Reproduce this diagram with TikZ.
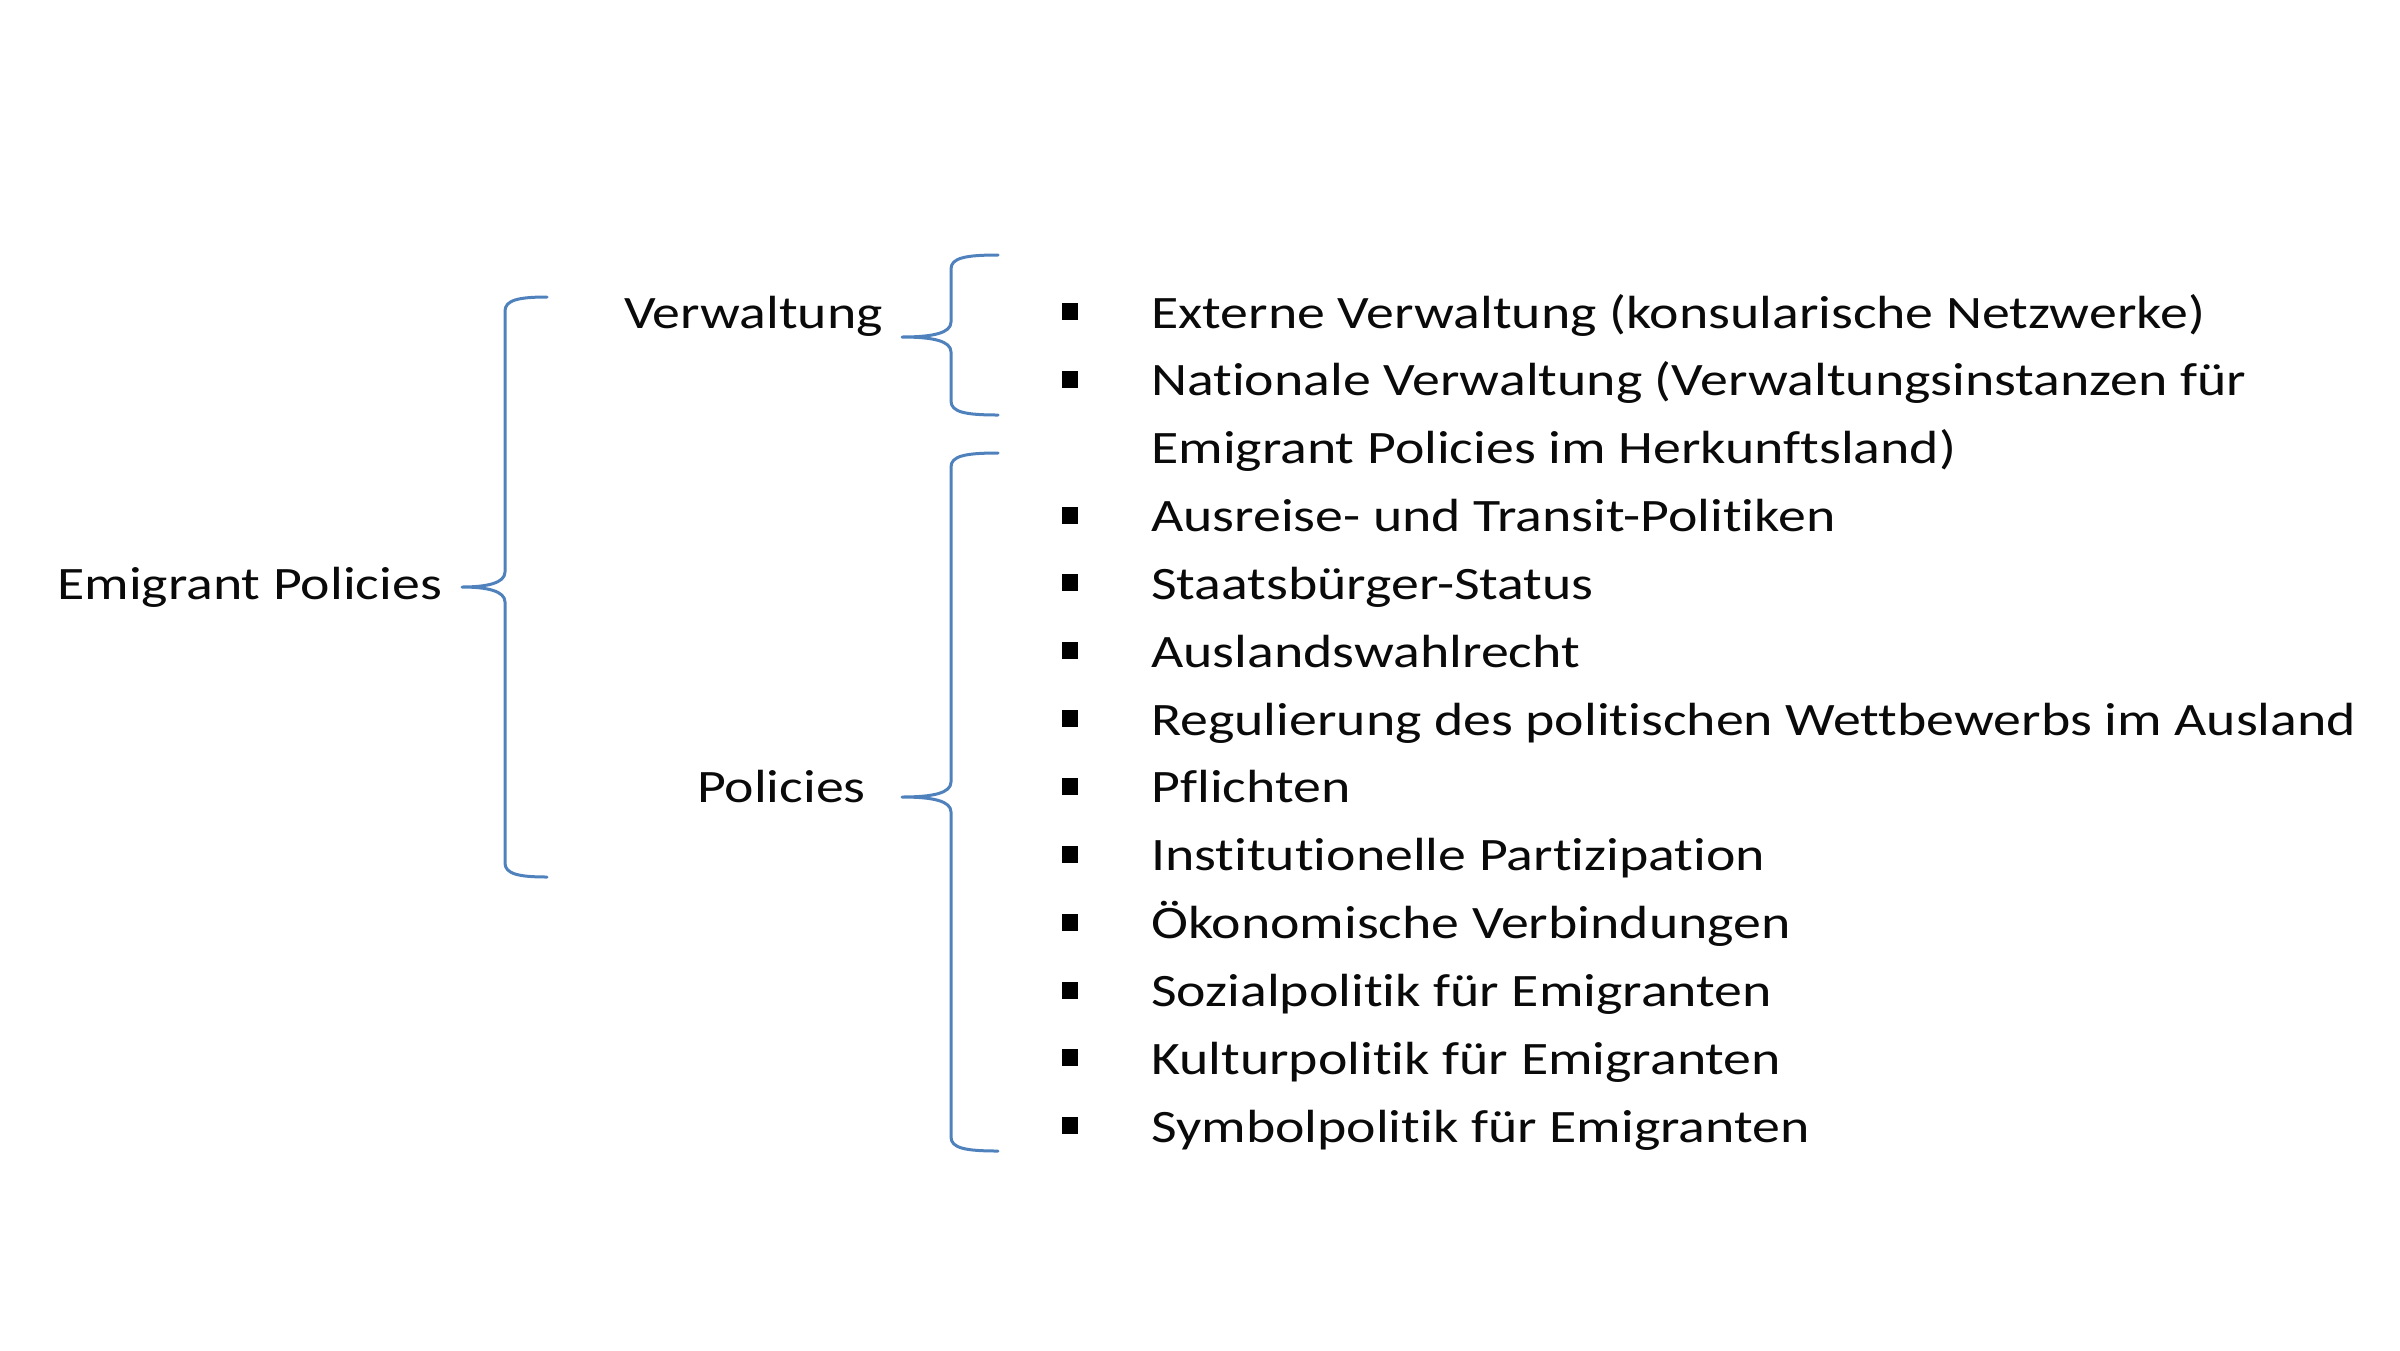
\documentclass[tikz,border=0pt]{standalone}
\usepackage{fontspec}
\setmainfont[FakeStretch=1.2, Ligatures={NoCommon}]{Carlito}
\definecolor{bracecol}{RGB}{79,129,189}
\definecolor{txtcol}{RGB}{10,10,10}
\tikzset{
  lbl/.style={inner sep=0pt, font=\fontsize{46.5}{56}\selectfont, text=txtcol},
  item/.style={lbl, anchor=base west},
  bul/.style={fill=black, inner sep=0pt, minimum width=16pt, minimum height=17pt, draw=none},
  bracestyle/.style={draw=bracecol, line width=3pt, line cap=round, line join=round}
}
\newcommand{\mybrace}[6]{% #1 end x, #2 stem x, #3 tip x, #4 top y, #5 mid y, #6 bottom y
  \draw[bracestyle] (#1,#4) .. controls (#2+14,#4) and (#2,#4+3) .. (#2,#4+14)
     -- (#2,#5-15) .. controls (#2,#5-4) and (#2-18,#5) .. (#3,#5)
     .. controls (#2-18,#5) and (#2,#5+4) .. (#2,#5+15)
     -- (#2,#6-14) .. controls (#2,#6-3) and (#2+14,#6) .. (#1,#6);}
\begin{document}
\begin{tikzpicture}[x=1pt,y=-1pt]
\useasboundingbox (0,0) rectangle (2400,1350);
% braces
\mybrace{547}{505}{462}{297}{587}{877}
\mybrace{998}{951}{902}{255}{337}{415}
\mybrace{998}{951}{902}{453}{797}{1151}
% labels
\def\by{328}
\def\lh{67.85}
\node[lbl, anchor=base west] (emig) at (57,\by+4*\lh) {Emigrant Policies};
\node[lbl, anchor=base east] (verw) at (883,\by) {Verwaltung};
\node[lbl, anchor=base east] (pol) at (866,\by+7*\lh) {Policies};
% items
\node[item] (i1) at (1151,\by) {Externe Verwaltung (konsularische Netzwerke)};
\node[item] (i2) at (1151,\by+1*\lh) {Nationale Verwaltung (Verwaltungsinstanzen für};
\node[item] (i2b) at (1151,\by+2*\lh) {Emigrant Policies im Herkunftsland)};
\node[item] (i3) at (1151,\by+3*\lh) {Ausreise- und Transit-Politiken};
\node[item] (i4) at (1151,\by+4*\lh) {Staatsbürger-Status};
\node[item] (i5) at (1151,\by+5*\lh) {Auslandswahlrecht};
\node[item] (i6) at (1151,\by+6*\lh) {Regulierung des politischen Wettbewerbs im Ausland};
\node[item] (i7) at (1151,\by+7*\lh) {Pflichten};
\node[item] (i8) at (1151,\by+8*\lh) {Institutionelle Partizipation};
\node[item] (i9) at (1151,\by+9*\lh) {Ökonomische Verbindungen};
\node[item] (i10) at (1151,\by+10*\lh) {Sozialpolitik für Emigranten};
\node[item] (i11) at (1151,\by+11*\lh) {Kulturpolitik für Emigranten};
\node[item] (i12) at (1151,\by+12*\lh) {Symbolpolitik für Emigranten};
% bullets
\foreach \k/\n in {0/1,1/2,3/3,4/4,5/5,6/6,7/7,8/8,9/9,10/10,11/11,12/12}{
  \node[bul] (b\n) at (1070,311.5+\k*\lh) {};
}
\end{tikzpicture}
\end{document}
